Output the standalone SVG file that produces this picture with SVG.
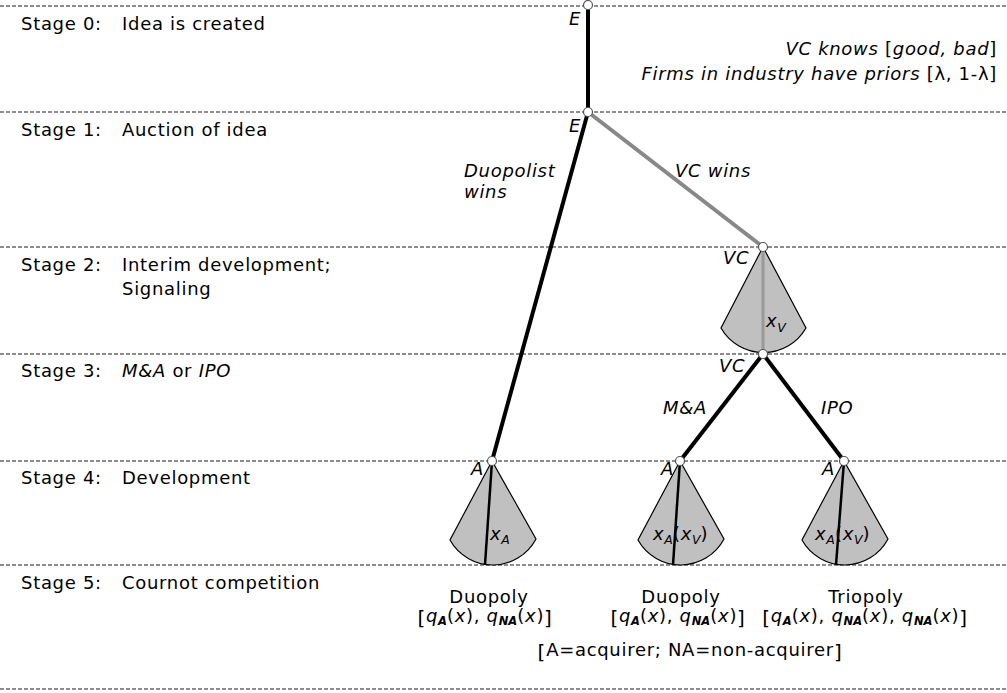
<svg xmlns="http://www.w3.org/2000/svg" width="1007" height="693" viewBox="0 0 1007 693">
<style>
text { font-family: "DejaVu Sans", Verdana, sans-serif; font-size: 18px; letter-spacing: 0.7px; fill: #000; }
.it { font-style: italic; }
.sub { font-size: 12.5px; font-style: italic; letter-spacing: 0; }
.subb { font-size: 11.5px; font-style: italic; font-weight: bold; letter-spacing: 0; }
.bk { font-size: 20px; }
.dash { stroke: #8c8c8c; stroke-width: 2; stroke-dasharray: 4 2; fill: none; }
.blk { stroke: #000; stroke-width: 4; fill: none; }
.gry { stroke: #888; stroke-width: 4; fill: none; }
.cone { fill: #c0c0c0; stroke: #000; stroke-width: 1.2; }
.axis { stroke: #000; stroke-width: 2.5; }
.node { fill: #fff; stroke: #555; stroke-width: 1.2; }
</style>
<rect width="1007" height="693" fill="#fff"/>

<g id="stage-lines">
  <line class="dash" x1="0" y1="6" x2="1007" y2="6"/>
  <line class="dash" x1="0" y1="112" x2="1007" y2="112"/>
  <line class="dash" x1="0" y1="247" x2="1007" y2="247"/>
  <line class="dash" x1="0" y1="354" x2="1007" y2="354"/>
  <line class="dash" x1="0" y1="461" x2="1007" y2="461"/>
  <line class="dash" x1="0" y1="565" x2="1007" y2="565"/>
  <line class="dash" x1="0" y1="689" x2="1007" y2="689"/>
</g>

<g id="stage-labels">
  <text x="21" y="30">Stage 0:</text><text x="122" y="30">Idea is created</text>
  <text x="21" y="136">Stage 1:</text><text x="122" y="136">Auction of idea</text>
  <text x="21" y="271">Stage 2:</text><text x="122" y="271">Interim development;</text>
  <text x="122" y="295">Signaling</text>
  <text x="21" y="377">Stage 3:</text><text x="122" y="377"><tspan class="it">M&amp;A</tspan> or <tspan class="it">IPO</tspan></text>
  <text x="21" y="484">Stage 4:</text><text x="122" y="484">Development</text>
  <text x="21" y="589">Stage 5:</text><text x="122" y="589">Cournot competition</text>
</g>

<g id="info">
  <text x="997" y="55" text-anchor="end"><tspan class="it">VC knows </tspan>[<tspan class="it">good, bad</tspan>]</text>
  <text x="997" y="80" text-anchor="end"><tspan class="it">Firms in industry have priors </tspan>[λ, 1-λ]</text>
</g>

<g id="cones">
  <g id="cone-VC">
    <path class="cone" d="M763 247 L721 328 A49 49 0 0 0 806 328 Z"/>
    <line x1="763" y1="247" x2="763" y2="354" stroke="#999" stroke-width="3"/>
    <text x="766" y="327"><tspan class="it">x</tspan><tspan class="sub" dy="5">V</tspan></text>
  </g>
  <g id="cone-A1">
    <path class="cone" d="M492 461 L450 540 A49 49 0 0 0 536 539 Z"/>
    <line class="axis" x1="492" y1="461" x2="485" y2="565"/>
    <text x="490" y="540"><tspan class="it">x</tspan><tspan class="sub" dy="4">A</tspan></text>
  </g>
  <g id="cone-A2">
    <path class="cone" d="M680 461 L638 540 A49 49 0 0 0 724 539 Z"/>
    <line class="axis" x1="680" y1="461" x2="673" y2="565"/>
    <text x="653" y="540"><tspan class="it">x</tspan><tspan class="sub" dy="4">A</tspan><tspan dy="-4">(</tspan><tspan class="it">x</tspan><tspan class="sub" dy="4">V</tspan><tspan dy="-4">)</tspan></text>
  </g>
  <g id="cone-A3">
    <path class="cone" d="M844 461 L802 540 A49 49 0 0 0 888 539 Z"/>
    <line class="axis" x1="844" y1="461" x2="836" y2="565"/>
    <text x="815" y="540"><tspan class="it">x</tspan><tspan class="sub" dy="4">A</tspan><tspan dy="-4">(</tspan><tspan class="it">x</tspan><tspan class="sub" dy="4">V</tspan><tspan dy="-4">)</tspan></text>
  </g>
</g>

<g id="connectors">
  <line class="blk" x1="588" y1="6" x2="588" y2="112"/>
  <line class="blk" x1="588" y1="112" x2="492" y2="461"/>
  <line class="gry" x1="588" y1="112" x2="763" y2="247"/>
  <line class="blk" x1="763" y1="354" x2="680" y2="461"/>
  <line class="blk" x1="763" y1="354" x2="844" y2="461"/>
  <text class="it" x="464" y="177">Duopolist</text>
  <text class="it" x="464" y="198">wins</text>
  <text class="it" x="675" y="177">VC wins</text>
  <text class="it" x="663" y="414">M&amp;A</text>
  <text class="it" x="821" y="414">IPO</text>
</g>

<g id="node-E0"><circle class="node" cx="588" cy="5" r="4.5"/><text class="it" x="569" y="25">E</text></g>
<g id="node-E1"><circle class="node" cx="588" cy="112" r="4.5"/><text class="it" x="569" y="132">E</text></g>
<g id="node-VC1"><circle class="node" cx="763" cy="247" r="4.5"/><text class="it" x="723" y="264">VC</text></g>
<g id="node-VC2"><circle class="node" cx="763" cy="354" r="4.5"/><text class="it" x="719" y="372">VC</text></g>
<g id="node-A1"><circle class="node" cx="492" cy="461" r="4.5"/><text class="it" x="471" y="475">A</text></g>
<g id="node-A2"><circle class="node" cx="680" cy="461" r="4.5"/><text class="it" x="661" y="475">A</text></g>
<g id="node-A3"><circle class="node" cx="844" cy="461" r="4.5"/><text class="it" x="822" y="475">A</text></g>

<g id="outcomes">
  <text x="489" y="603" text-anchor="middle">Duopoly</text>
  <text x="485" y="622" text-anchor="middle"><tspan class="bk" dy="3">[</tspan><tspan class="it" dy="-3">q</tspan><tspan class="subb" dy="3">A</tspan><tspan dy="-3">(</tspan><tspan class="it">x</tspan>), <tspan class="it">q</tspan><tspan class="subb" dy="3">NA</tspan><tspan dy="-3">(</tspan><tspan class="it">x</tspan>)<tspan class="bk" dy="3">]</tspan></text>
  <text x="681" y="603" text-anchor="middle">Duopoly</text>
  <text x="678" y="622" text-anchor="middle"><tspan class="bk" dy="3">[</tspan><tspan class="it" dy="-3">q</tspan><tspan class="subb" dy="3">A</tspan><tspan dy="-3">(</tspan><tspan class="it">x</tspan>), <tspan class="it">q</tspan><tspan class="subb" dy="3">NA</tspan><tspan dy="-3">(</tspan><tspan class="it">x</tspan>)<tspan class="bk" dy="3">]</tspan></text>
  <text x="866" y="603" text-anchor="middle">Triopoly</text>
  <text x="865" y="622" text-anchor="middle"><tspan class="bk" dy="3">[</tspan><tspan class="it" dy="-3">q</tspan><tspan class="subb" dy="3">A</tspan><tspan dy="-3">(</tspan><tspan class="it">x</tspan>), <tspan class="it">q</tspan><tspan class="subb" dy="3">NA</tspan><tspan dy="-3">(</tspan><tspan class="it">x</tspan>), <tspan class="it">q</tspan><tspan class="subb" dy="3">NA</tspan><tspan dy="-3">(</tspan><tspan class="it">x</tspan>)<tspan class="bk" dy="3">]</tspan></text>
  <text x="690" y="656" text-anchor="middle"><tspan class="bk" dy="3">[</tspan><tspan dy="-3">A=acquirer; NA=non-acquirer</tspan><tspan class="bk" dy="3">]</tspan></text>
</g>
</svg>
